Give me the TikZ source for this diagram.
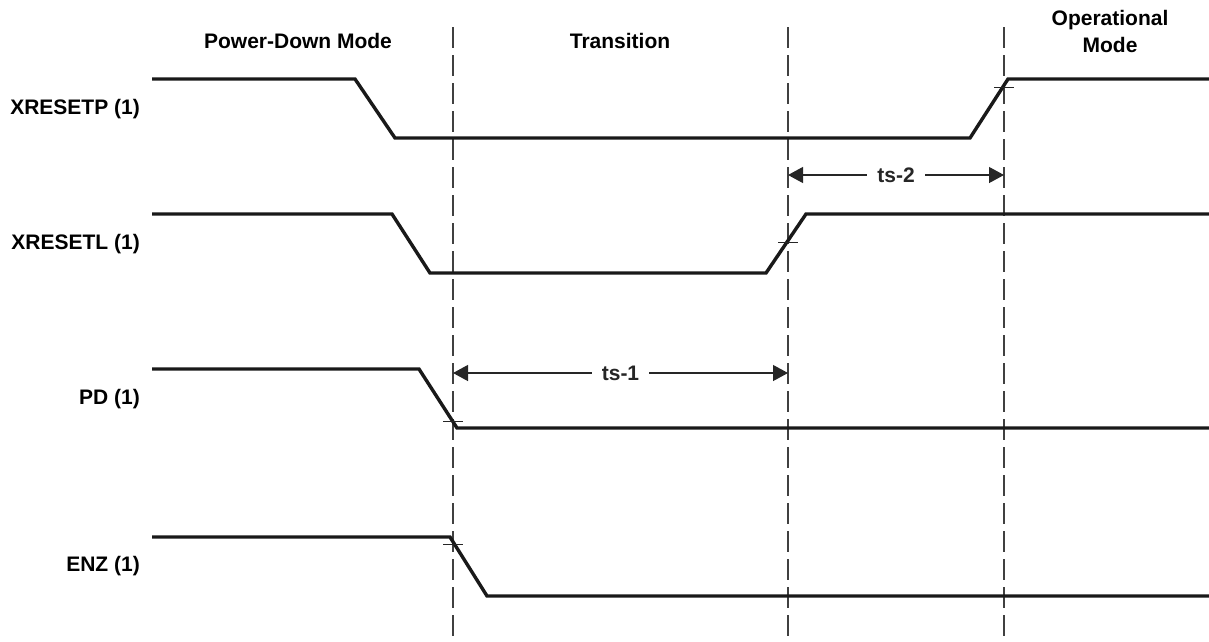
\documentclass[tikz,border=0pt]{standalone}
\usepackage{fontspec}
\setmainfont{Liberation Sans}
\usetikzlibrary{arrows.meta, positioning}

\begin{document}
\begin{tikzpicture}[
    x=1pt, y=-1pt,
    txt/.style={font=\fontsize{21}{27}\selectfont\bfseries, inner sep=0pt},
    sig/.style={txt, anchor=base east},
    mode/.style={txt, align=center},
    wave/.style={line width=3.4pt, color=black!90, line join=miter},
    guide/.style={line width=1.3pt, color=black!75, dash pattern=on 21pt off 7pt},
    crossbar/.style={line width=0.9pt, color=black!85},
    span/.style={{Triangle[length=15pt,width=16pt]}-{Triangle[length=15pt,width=16pt]},
                 line width=1.2pt, color=black!85},
    spanlbl/.style={txt, fill=white, inner xsep=10pt},
  ]
    \useasboundingbox (0,0) rectangle (1209,641);

    % mode headers
    \node[txt, anchor=base] (pdmode) at (298,48) {Power-Down Mode};
    \node[txt, anchor=base] (trans)  at (620,48) {Transition};
    \node[mode] (opmode) at (1110,31) {Operational\\Mode};

    % signal names
    \node[sig] (xrp) at (140,114) {XRESETP (1)};
    \node[sig] (xrl) at (140,249) {XRESETL (1)};
    \node[sig] (pd)  at (140,404) {PD (1)};
    \node[sig] (enz) at (140,571) {ENZ (1)};

    % phase boundaries
    \coordinate (b1top) at (453,27);  \coordinate (b1bot) at (453,641);
    \coordinate (b2top) at (788,27);  \coordinate (b2bot) at (788,641);
    \coordinate (b3top) at (1004,27); \coordinate (b3bot) at (1004,641);
    \draw[guide] (b1top) -- (b1bot);
    \draw[guide] (b2top) -- (b2bot);
    \draw[guide] (b3top) -- (b3bot);

    % waveforms
    \draw[wave] (152,79) -- (355,79) -- (395,138) -- (970,138) -- (1008,79) -- (1209,79);
    \draw[wave] (152,214) -- (392,214) -- (430,273) -- (766,273) -- (806,214) -- (1209,214);
    \draw[wave] (152,369) -- (419,369) -- (457,428) -- (1209,428);
    \draw[wave] (152,537) -- (450,537) -- (487,596) -- (1209,596);

    % crossing marks
    \draw[crossbar] (994,87) -- (1014,87);
    \draw[crossbar] (778,242) -- (798,242);
    \draw[crossbar] (443,421) -- (463,421);
    \draw[crossbar] (443,544) -- (463,544);

    % setup times
    \coordinate (ts1a) at (453,373); \coordinate (ts1b) at (788,373);
    \coordinate (ts2a) at (788,175); \coordinate (ts2b) at (1004,175);
    \draw[span] (ts1a) -- node[spanlbl] (ts1) {ts-1} (ts1b);
    \draw[span] (ts2a) -- node[spanlbl] (ts2) {ts-2} (ts2b);
\end{tikzpicture}
\end{document}
